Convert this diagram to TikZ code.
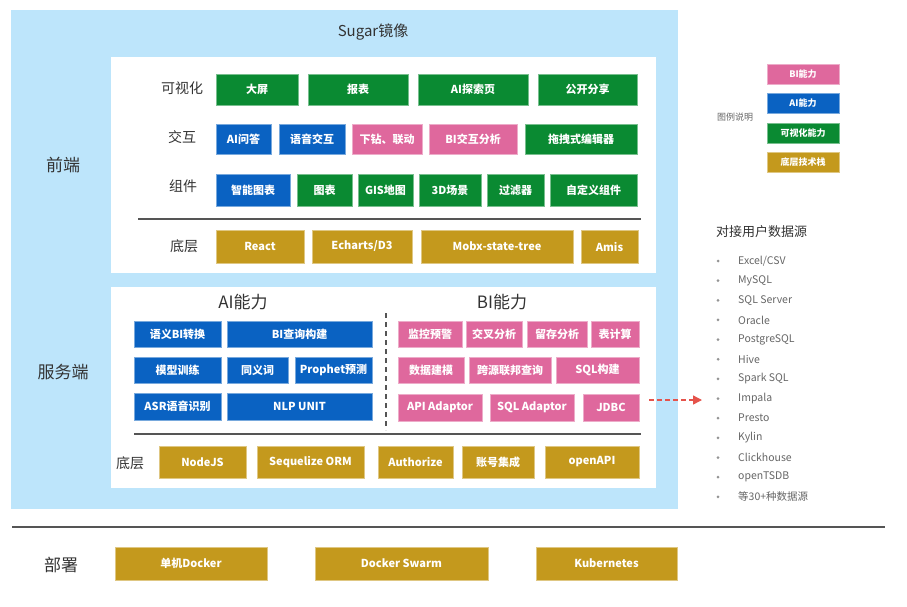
\documentclass[tikz,border=0pt]{standalone}
\usepackage{fontspec}
\setmainfont{Noto Sans CJK SC}
\usetikzlibrary{arrows.meta}
\definecolor{lb}{HTML}{BDE5FB}
\definecolor{cgreen}{HTML}{0A8A32}
\definecolor{cblue}{HTML}{0A62C2}
\definecolor{cpink}{HTML}{DF689D}
\definecolor{cgold}{HTML}{C4991D}
\definecolor{txt}{HTML}{333333}
\definecolor{lst}{HTML}{666666}
\definecolor{sepc}{HTML}{555555}
\definecolor{arrc}{HTML}{E5534B}
\tikzset{
  box/.style={inner sep=0pt, text=white, font=\bfseries\fontsize{11}{13}\selectfont, line width=0.6pt},
  gbox/.style={box, fill=cgreen, draw=cgreen!55!white},
  bbox/.style={box, fill=cblue, draw=cblue!55!white},
  pbox/.style={box, fill=cpink, draw=cpink!55!white},
  ybox/.style={box, fill=cgold, draw=cgold!55!white},
  lgbox/.style={font=\bfseries\fontsize{9}{11}\selectfont},
  outerpanel/.style={inner sep=0pt, fill=lb, draw=none},
  whitepanel/.style={inner sep=0pt, fill=white, draw=none},
  lbl/.style={text=txt, font=\fontsize{14}{16}\selectfont},
  biglbl/.style={text=txt, font=\fontsize{17}{19}\selectfont},
  ttl/.style={text=txt, font=\fontsize{15}{17}\selectfont},
  lsttxt/.style={text=lst, font=\fontsize{10.5}{12}\selectfont, anchor=west, inner sep=0pt},
  dotc/.style={circle, fill=lst!70!white, inner sep=0pt, minimum size=3pt},
  sepline/.style={draw=sepc, line width=2.6pt},
}
\newcommand\bx[7]{\node[#6, minimum width={#4pt-#2pt}, minimum height={#5pt-#3pt}] (#1) at ({(#2+#4)/2},{(#3+#5)/2}) {#7};}
\begin{document}
\begin{tikzpicture}[x=1pt,y=-1pt]
\useasboundingbox[fill=white] (0,0) rectangle (907,606);
% panels
\bx{outer}{11}{10}{678}{509}{outerpanel}{}
\bx{front}{111}{57}{656}{273}{whitepanel}{}
\bx{server}{111}{287}{656}{488}{whitepanel}{}
\node[ttl] (sugar) at (373,32) {Sugar镜像};
\node[biglbl] (fe) at (63,165) {前端};
\node[biglbl] (be) at (63,372) {服务端};
\node[biglbl] (dep) at (61,565) {部署};
% front rows
\node[lbl] (l1) at (182,88) {可视化};
\node[lbl] (l2) at (182,137) {交互};
\node[lbl] (l3) at (183,186) {组件};
\node[lbl] (l4) at (184,246) {底层};
\bx{v1}{216}{74}{298}{105}{gbox}{大屏}
\bx{v2}{308}{74}{408}{105}{gbox}{报表}
\bx{v3}{418}{74}{528}{105}{gbox}{AI探索页}
\bx{v4}{538}{74}{637}{105}{gbox}{公开分享}
\bx{i1}{216}{124}{271}{154}{bbox}{AI问答}
\bx{i2}{279}{124}{345}{154}{bbox}{语音交互}
\bx{i3}{352}{124}{422}{154}{pbox}{下钻、联动}
\bx{i4}{429}{124}{517}{154}{pbox}{BI交互分析}
\bx{i5}{525}{124}{637}{154}{gbox}{拖拽式编辑器}
\bx{c1}{216}{174}{290}{206}{bbox}{智能图表}
\bx{c2}{297}{174}{352}{206}{gbox}{图表}
\bx{c3}{358}{174}{413}{206}{gbox}{GIS地图}
\bx{c4}{419}{174}{481}{206}{gbox}{3D场景}
\bx{c5}{487}{174}{544}{206}{gbox}{过滤器}
\bx{c6}{550}{174}{637}{206}{gbox}{自定义组件}
\draw[sepline] (138,219) -- (641,219);
\bx{f1}{216}{230}{304}{263}{ybox}{React}
\bx{f2}{312}{230}{412}{263}{ybox}{Echarts/D3}
\bx{f3}{421}{230}{573}{263}{ybox}{Mobx-state-tree}
\bx{f4}{581}{230}{638}{263}{ybox}{Amis}
% server
\node[biglbl] (ait) at (243,302) {AI能力};
\node[biglbl] (bit) at (502,302) {BI能力};
\draw[draw=sepc, line width=2.4pt, dash pattern=on 5pt off 4pt] (386,313) -- (386,430);
\bx{a1}{134}{321}{221}{347}{bbox}{语义BI转换}
\bx{a2}{227}{321}{372}{347}{bbox}{BI查询构建}
\bx{a3}{134}{357}{221}{383}{bbox}{模型训练}
\bx{a4}{227}{357}{288}{383}{bbox}{同义词}
\bx{a5}{295}{357}{372}{383}{bbox}{Prophet预测}
\bx{a6}{134}{393}{221}{420}{bbox}{ASR语音识别}
\bx{a7}{227}{393}{372}{420}{bbox}{NLP UNIT}
\bx{b1}{398}{321}{462}{347}{pbox}{监控预警}
\bx{b2}{466}{321}{522}{347}{pbox}{交叉分析}
\bx{b3}{527}{321}{587}{347}{pbox}{留存分析}
\bx{b4}{591}{321}{639}{347}{pbox}{表计算}
\bx{b5}{398}{357}{464}{383}{pbox}{数据建模}
\bx{b6}{469}{357}{551}{383}{pbox}{跨源联邦查询}
\bx{b7}{556}{357}{639}{383}{pbox}{SQL构建}
\bx{b8}{398}{394}{482}{421}{pbox}{API Adaptor}
\bx{b9}{490}{394}{574}{421}{pbox}{SQL Adaptor}
\bx{b10}{583}{394}{639}{421}{pbox}{JDBC}
\draw[sepline] (134,434) -- (641,434);
\node[lbl] (l5) at (130,463) {底层};
\bx{s1}{159}{446}{246}{478}{ybox}{NodeJS}
\bx{s2}{257}{446}{364}{478}{ybox}{Sequelize ORM}
\bx{s3}{378}{446}{453}{478}{ybox}{Authorize}
\bx{s4}{462}{446}{534}{478}{ybox}{账号集成}
\bx{s5}{545}{446}{639}{478}{ybox}{openAPI}
% arrow
\coordinate (arrS) at (649,400);
\coordinate (arrE) at (702,400);
\draw[draw=arrc, line width=1.4pt, dash pattern=on 5pt off 3pt, -{Triangle[length=9pt,width=9pt]}] (arrS) -- (arrE);
% legend
\node[text=lst, font=\fontsize{9}{11}\selectfont] (lgt) at (735,117) {图例说明};
\bx{g1}{767}{64}{839}{84}{pbox,lgbox}{BI能力}
\bx{g2}{767}{93}{839}{113}{bbox,lgbox}{AI能力}
\bx{g3}{767}{123}{839}{143}{gbox,lgbox}{可视化能力}
\bx{g4}{767}{152}{839}{172}{ybox,lgbox}{底层技术栈}
% data sources
\node[text=txt, font=\fontsize{13}{15}\selectfont, anchor=west, inner sep=0pt] (dst) at (716,232) {对接用户数据源};
\foreach \t [count=\i] in {Excel/CSV,MySQL,SQL Server,Oracle,PostgreSQL,Hive,Spark SQL,Impala,Presto,Kylin,Clickhouse,openTSDB,等30+种数据源}{
  \node[dotc] (d\i) at (718,{261+(\i-1)*19.65}) {};
  \node[lsttxt] (t\i) at (738,{261+(\i-1)*19.65}) {\t};
}
% deployment
\draw[sepline] (12,527) -- (885,527);
\bx{k1}{115}{547}{267}{580}{ybox}{单机Docker}
\bx{k2}{315}{547}{488}{580}{ybox}{Docker Swarm}
\bx{k3}{536}{547}{677}{580}{ybox}{Kubernetes}
\end{tikzpicture}
\end{document}
